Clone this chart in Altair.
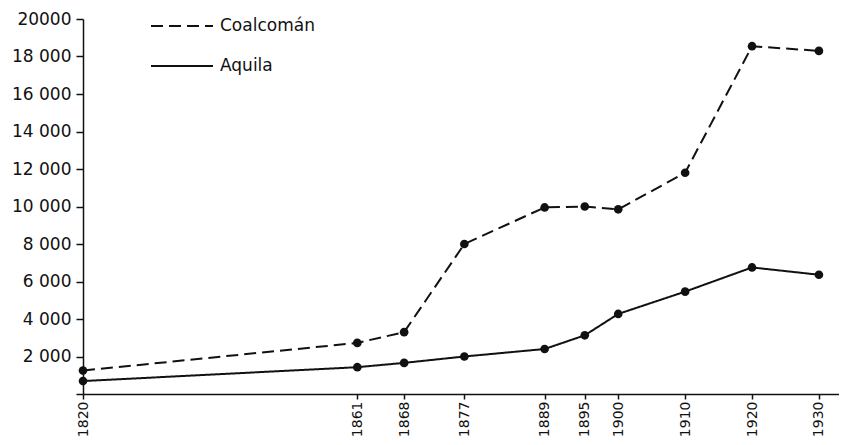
import altair as alt
import pandas as pd

years = [1820, 1861, 1868, 1877, 1889, 1895, 1900, 1910, 1920, 1930]
coalcoman = [1250, 2725, 3300, 8000, 9950, 10000, 9850, 11800, 18550, 18300]
aquila = [690, 1430, 1660, 2000, 2400, 3130, 4270, 5460, 6750, 6360]
series_names = ["Coalcomán", "Aquila"]
y_ticks = [0, 2000, 4000, 6000, 8000, 10000, 12000, 14000, 16000, 18000, 20000]

rows = []
for name, vals in zip(series_names, [coalcoman, aquila]):
    for yr, v in zip(years, vals):
        rows.append({"year": yr, "value": v, "series": name})
df = pd.DataFrame(rows)

FONT = "DejaVu Sans"
INK = "#111111"

x = alt.X(
    "year:Q",
    scale=alt.Scale(domain=[1820, 1933], nice=False, zero=False),
    axis=alt.Axis(
        values=years, labelAngle=-90, title=None, grid=False, format="d",
        tickSize=5, labelPadding=2, domainColor=INK, tickColor=INK,
        labelColor=INK, labelFontSize=14, labelFont=FONT, domainWidth=1.5,
        tickWidth=1.5,
    ),
)
y = alt.Y(
    "value:Q",
    scale=alt.Scale(domain=[0, 20000], nice=False),
    axis=alt.Axis(
        values=y_ticks, title=None, grid=False,
        labelExpr="datum.value == 0 ? '' : (datum.value == 20000 ? '20000' : replace(format(datum.value, ','), ',', ' '))",
        tickSize=7, labelPadding=5, domainColor=INK, tickColor=INK,
        labelColor=INK, labelFontSize=17, labelFont=FONT, domainWidth=1.5,
        tickWidth=1.5,
    ),
)

base = alt.Chart(df)
lines = base.mark_line(color=INK, strokeWidth=2).encode(
    x=x, y=y,
    strokeDash=alt.StrokeDash(
        "series:N",
        scale=alt.Scale(domain=series_names, range=[[12, 6], [1, 0]]),
        legend=alt.Legend(
            orient="none", legendX=67, legendY=-25, title=None,
            symbolType="stroke", symbolSize=3844, symbolStrokeWidth=2,
            symbolStrokeColor=INK, labelFontSize=17, labelFont=FONT,
            labelColor=INK, labelOffset=6, padding=0, rowPadding=0,
        ),
    ),
)
points = base.mark_point(filled=True, size=75, color=INK, opacity=1).encode(
    x=x, y=y, detail="series:N"
)

chart = (
    alt.layer(lines, points)
    .properties(
        width=756, height=375,
        autosize=alt.AutoSizeParams(type="none"),
        padding={"left": 75, "top": 11, "right": 0, "bottom": 43},
        background="white",
    )
    .configure_view(stroke=None)
)

chart.save("out.html", embed_options={"renderer": "svg", "actions": False})
